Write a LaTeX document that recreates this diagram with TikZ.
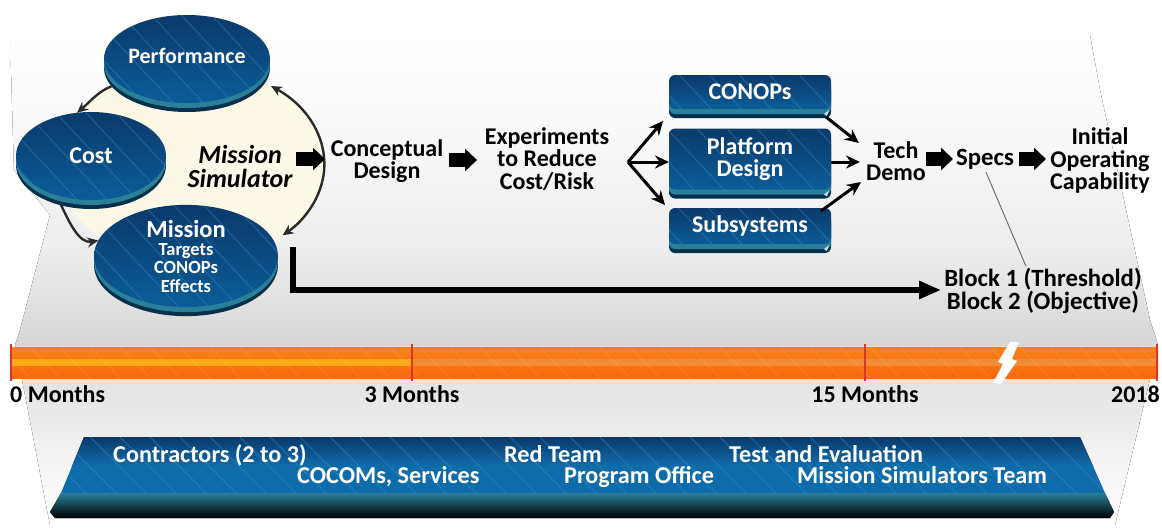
\documentclass[tikz,border=0pt]{standalone}
\usepackage{fontspec}
\setmainfont{Carlito}
\usetikzlibrary{shapes.geometric,arrows.meta,calc}
\pgfdeclarelayer{back}
\pgfdeclarelayer{mid}
\pgfsetlayers{back,mid,main}
\definecolor{rimdark}{HTML}{07304C}
\definecolor{rimteal}{HTML}{2A7F99}
\definecolor{facetop}{HTML}{0A3A6B}
\definecolor{facemid}{HTML}{0F6CAB}
\definecolor{facebot}{HTML}{0C5C97}
\definecolor{stripeblue}{HTML}{3F9EDB}
\definecolor{creamfill}{HTML}{FBF9E6}
\definecolor{arcgray}{HTML}{2B2B2B}
\definecolor{tickred}{HTML}{D9352B}
\definecolor{bartop}{HTML}{FA8219}
\definecolor{barbot}{HTML}{F8690C}
\definecolor{bandyel}{HTML}{FCAA16}
\definecolor{bandora}{HTML}{F38C37}
\newcommand{\bigline}[1]{{\fontsize{24.5}{25}\selectfont #1}}
\newcommand{\smline}[1]{{\fontsize{18.5}{19}\selectfont #1}}
\tikzset{
  x=1pt,y=-1pt,
  stripes/.style={path picture={
    \foreach \i in {-12,...,12}
      \draw[stripeblue,line width=.8pt,opacity=.38]
        ([xshift=\i*30pt,yshift=70pt]path picture bounding box.center) -- ++(140pt,-150pt);}},
  rims/.style={
    preaction={draw=none,fill=rimdark,transform canvas={yshift=-9pt}},
    preaction={draw=none,fill=rimteal,transform canvas={yshift=-5pt}}},
  face/.style={rims,top color=facetop,middle color=facemid,bottom color=facebot,stripes,
    text=white,align=center,inner sep=0pt,outer sep=0pt,font=\bfseries\fontsize{24}{22}\selectfont},
  disk/.style={ellipse,face},
  panel/.style={rectangle,rounded corners=6pt,minimum width=162pt,face},
  dark/.style={text=black,align=center,inner sep=0pt,font=\bfseries\fontsize{24}{22.5}\selectfont},
  banner/.style={text=white,inner sep=0pt,anchor=base west,font=\bfseries\fontsize{24.2}{22}\selectfont},
  loop/.style={draw=arcgray,line width=2.4pt,-{Stealth[length=11pt,width=10pt]}},
  thin arrow/.style={draw=black,line width=3pt,-{Stealth[length=14pt,width=13pt]}},
  fat arrow/.style={draw=black,line width=14pt,-{Triangle[length=12pt,width=22pt]}},
  tick line/.style={draw=tickred,line width=1.3pt},
}
\begin{document}
\begin{tikzpicture}
\useasboundingbox (0,0) rectangle (1162,531);
\begin{pgfonlayer}{back}
\fill[white] (0,0) rectangle (1162,531);
\begin{scope}
\clip (10,35) -- (1090,35) -- (1100,90) -- (1150,320) -- (1158,345) -- (1145,400) -- (1115,525)
  -- (50,525) -- (25,395) -- (15,345) -- (20,330) -- (50,215) -- (14,170) -- cycle;
\fill[top color=white,bottom color=white!97!gray] (0,30) rectangle (1162,100);
\fill[top color=white!97!gray,bottom color=black!7] (0,100) rectangle (1162,250);
\fill[top color=black!7,bottom color=black!16] (0,250) rectangle (1162,346);
\fill[top color=black!14,bottom color=black!6] (0,346) rectangle (1162,440);
\fill[top color=black!6,bottom color=white] (0,440) rectangle (1162,525);
\end{scope}
\fill[creamfill] (191,165) ellipse [x radius=134,y radius=98];
\end{pgfonlayer}

% disks
\node[disk,font=\bfseries\fontsize{22}{22}\selectfont,minimum width=165pt,minimum height=88pt] (perf) at (187,59) {\raisebox{6pt}{Performance}};
\node[disk,minimum width=150pt,minimum height=88pt] (cost) at (91,156) {Cost};
\node[disk,minimum width=184pt,minimum height=102pt] (miss) at (186,256)
  {\bigline{Mission}\\[-4pt]\smline{Targets}\\[-3.5pt]\smline{CONOPs}\\[-3.5pt]\smline{Effects}};

\coordinate (arcT) at (271,86);
\coordinate (arcB) at (284,236);
\begin{pgfonlayer}{mid}
\draw[loop] (perf.200) to[out=195,in=40] (cost.108);
\draw[loop] (cost.210) to[out=60,in=190] (miss.170);
\draw[draw=arcgray,line width=2.4pt,{Stealth[length=11pt,width=10pt]}-{Stealth[length=11pt,width=10pt]}]
  (arcT) arc [start angle=-53,end angle=46.5,x radius=134,y radius=98];
\end{pgfonlayer}

\node[dark,font=\bfseries\itshape\fontsize{26}{24}\selectfont] (sim) at (240,166) {Mission\\Simulator};
\node[dark] (concept) at (387,161) {Conceptual\\Design};
\node[dark] (exper) at (547,159) {Experiments\\to Reduce\\Cost/Risk};
\coordinate (fork) at (628,162);
\coordinate (a1s) at (296,159); \coordinate (a1e) at (325,159);
\coordinate (a2s) at (449,160); \coordinate (a2e) at (477,160);
\coordinate (a3s) at (926,159); \coordinate (a3e) at (953,159);
\coordinate (a4s) at (1019,159); \coordinate (a4e) at (1046,159);
\draw[fat arrow] (a1s) -- (a1e);
\draw[fat arrow] (a2s) -- (a2e);
\draw[fat arrow] (a3s) -- (a3e);
\draw[fat arrow] (a4s) -- (a4e);

% panels
\node[panel,minimum height=34pt] (conops) at (750,92) {\raisebox{-3pt}{CONOPs}};
\node[panel,minimum height=61pt] (plat) at (750,159) {\raisebox{-2pt}{Platform}\\\raisebox{-2pt}{Design}};
\node[panel,minimum height=36pt] (subs) at (750,226) {Subsystems};
\foreach \b in {conops,plat,subs}
  \fill[white!70!stripeblue] ([shift={(-7pt,-5pt)}]\b.south east) -- ++(5pt,4pt) -- ++(-2pt,-6pt) -- cycle;

\node[dark] (tech) at (896,161) {Tech\\Demo};
\node[dark,font=\bfseries\fontsize{24.8}{22.5}\selectfont] (specs) at (985,159) {Specs};
\node[dark] (ioc) at (1100,160.5) {Initial\\Operating\\Capability};
\node[dark,font=\bfseries\fontsize{24.8}{22.5}\selectfont] (blocks) at (1043,291) {Block 1 (Threshold)\\Block 2 (Objective)};

\coordinate (forkA) at (663,121);
\coordinate (forkC) at (665,205);
\coordinate (techA) at (859,143);
\coordinate (techB) at (860,162);
\coordinate (techC) at (861,182);
\coordinate (subsOut) at (821,211);
\draw[thin arrow] (fork) -- (forkA);
\draw[thin arrow] (fork) -- (plat.west |- fork);
\draw[thin arrow] (fork) -- (forkC);
\draw[thin arrow] (826,117) -- (techA);
\draw[thin arrow] (plat.east |- techB) -- (techB);
\draw[thin arrow] (subsOut) -- (techC);
\draw[draw=black!60,line width=.9pt] ($(specs.south)+(1,3)$) -- ($(blocks.north)+(-17,-2)$);

% big L arrow
\coordinate (lstart) at (293,247);
\coordinate (lcorner) at (293,290);
\draw[draw=black,line width=6.5pt,-{Triangle[length=22pt,width=17pt]},shorten >=3pt] (lstart) -- (lcorner) -- (lcorner -| blocks.west);

% bar
\begin{scope}
\clip (10,347) rectangle (1158,378);
\fill[top color=bartop,bottom color=barbot] (10,347) rectangle (1158,378);
\fill[bandyel] (10,359) rectangle (412,366);
\fill[bandora] (412,359) rectangle (1158,366);
\foreach \i in {0,...,40}
  \draw[white,opacity=.12,line width=.7pt] (\i*30,347) -- ++(30,31);
\end{scope}
\foreach \t/\x in {t0/11,t3/412,t15/865,t18/1157} {
  \coordinate (\t a) at (\x,344);
  \coordinate (\t b) at (\x,381);
  \draw[tick line] (\t a) -- (\t b);
}
\fill[white] (1010,342) -- (1019,342) -- (1012,359) -- (1017,361) -- (1001,384) -- (993,383) -- (1003,364) -- (998,362) -- cycle;

\node[dark,anchor=west] (m0) at (10,394) {0 Months};
\node[dark] (m3) at (412,394) {3 Months};
\node[dark] (m15) at (865,394) {15 Months};
\node[dark,anchor=east] (m18) at (1160,394) {2018};

% bottom banner
\fill[top color=rimteal,bottom color=black] (61,493) -- (1105,493) -- (1114,512) -- (1110,518) -- (55,518) -- (50,512) -- cycle;
\begin{scope}
\clip (84,437) -- (1080,437) -- (1105,493) -- (61,493) -- cycle;
\fill[top color=facetop,bottom color=facemid] (50,437) rectangle (1114,466);
\fill[facemid] (50,466) rectangle (1114,493);
\foreach \i in {0,...,36}
  \draw[stripeblue,line width=.8pt,opacity=.4] (\i*30,437) -- ++(56,56);
\end{scope}
\node[banner] (n1) at (113,462) {Contractors (2 to 3)};
\node[banner] (n2) at (297,483) {COCOMs, Services};
\node[banner] (n3) at (504,462) {Red Team};
\node[banner] (n4) at (564,483) {Program Office};
\node[banner] (n5) at (729,462) {Test and Evaluation};
\node[banner] (n6) at (797,483) {Mission Simulators Team};
\end{tikzpicture}
\end{document}
